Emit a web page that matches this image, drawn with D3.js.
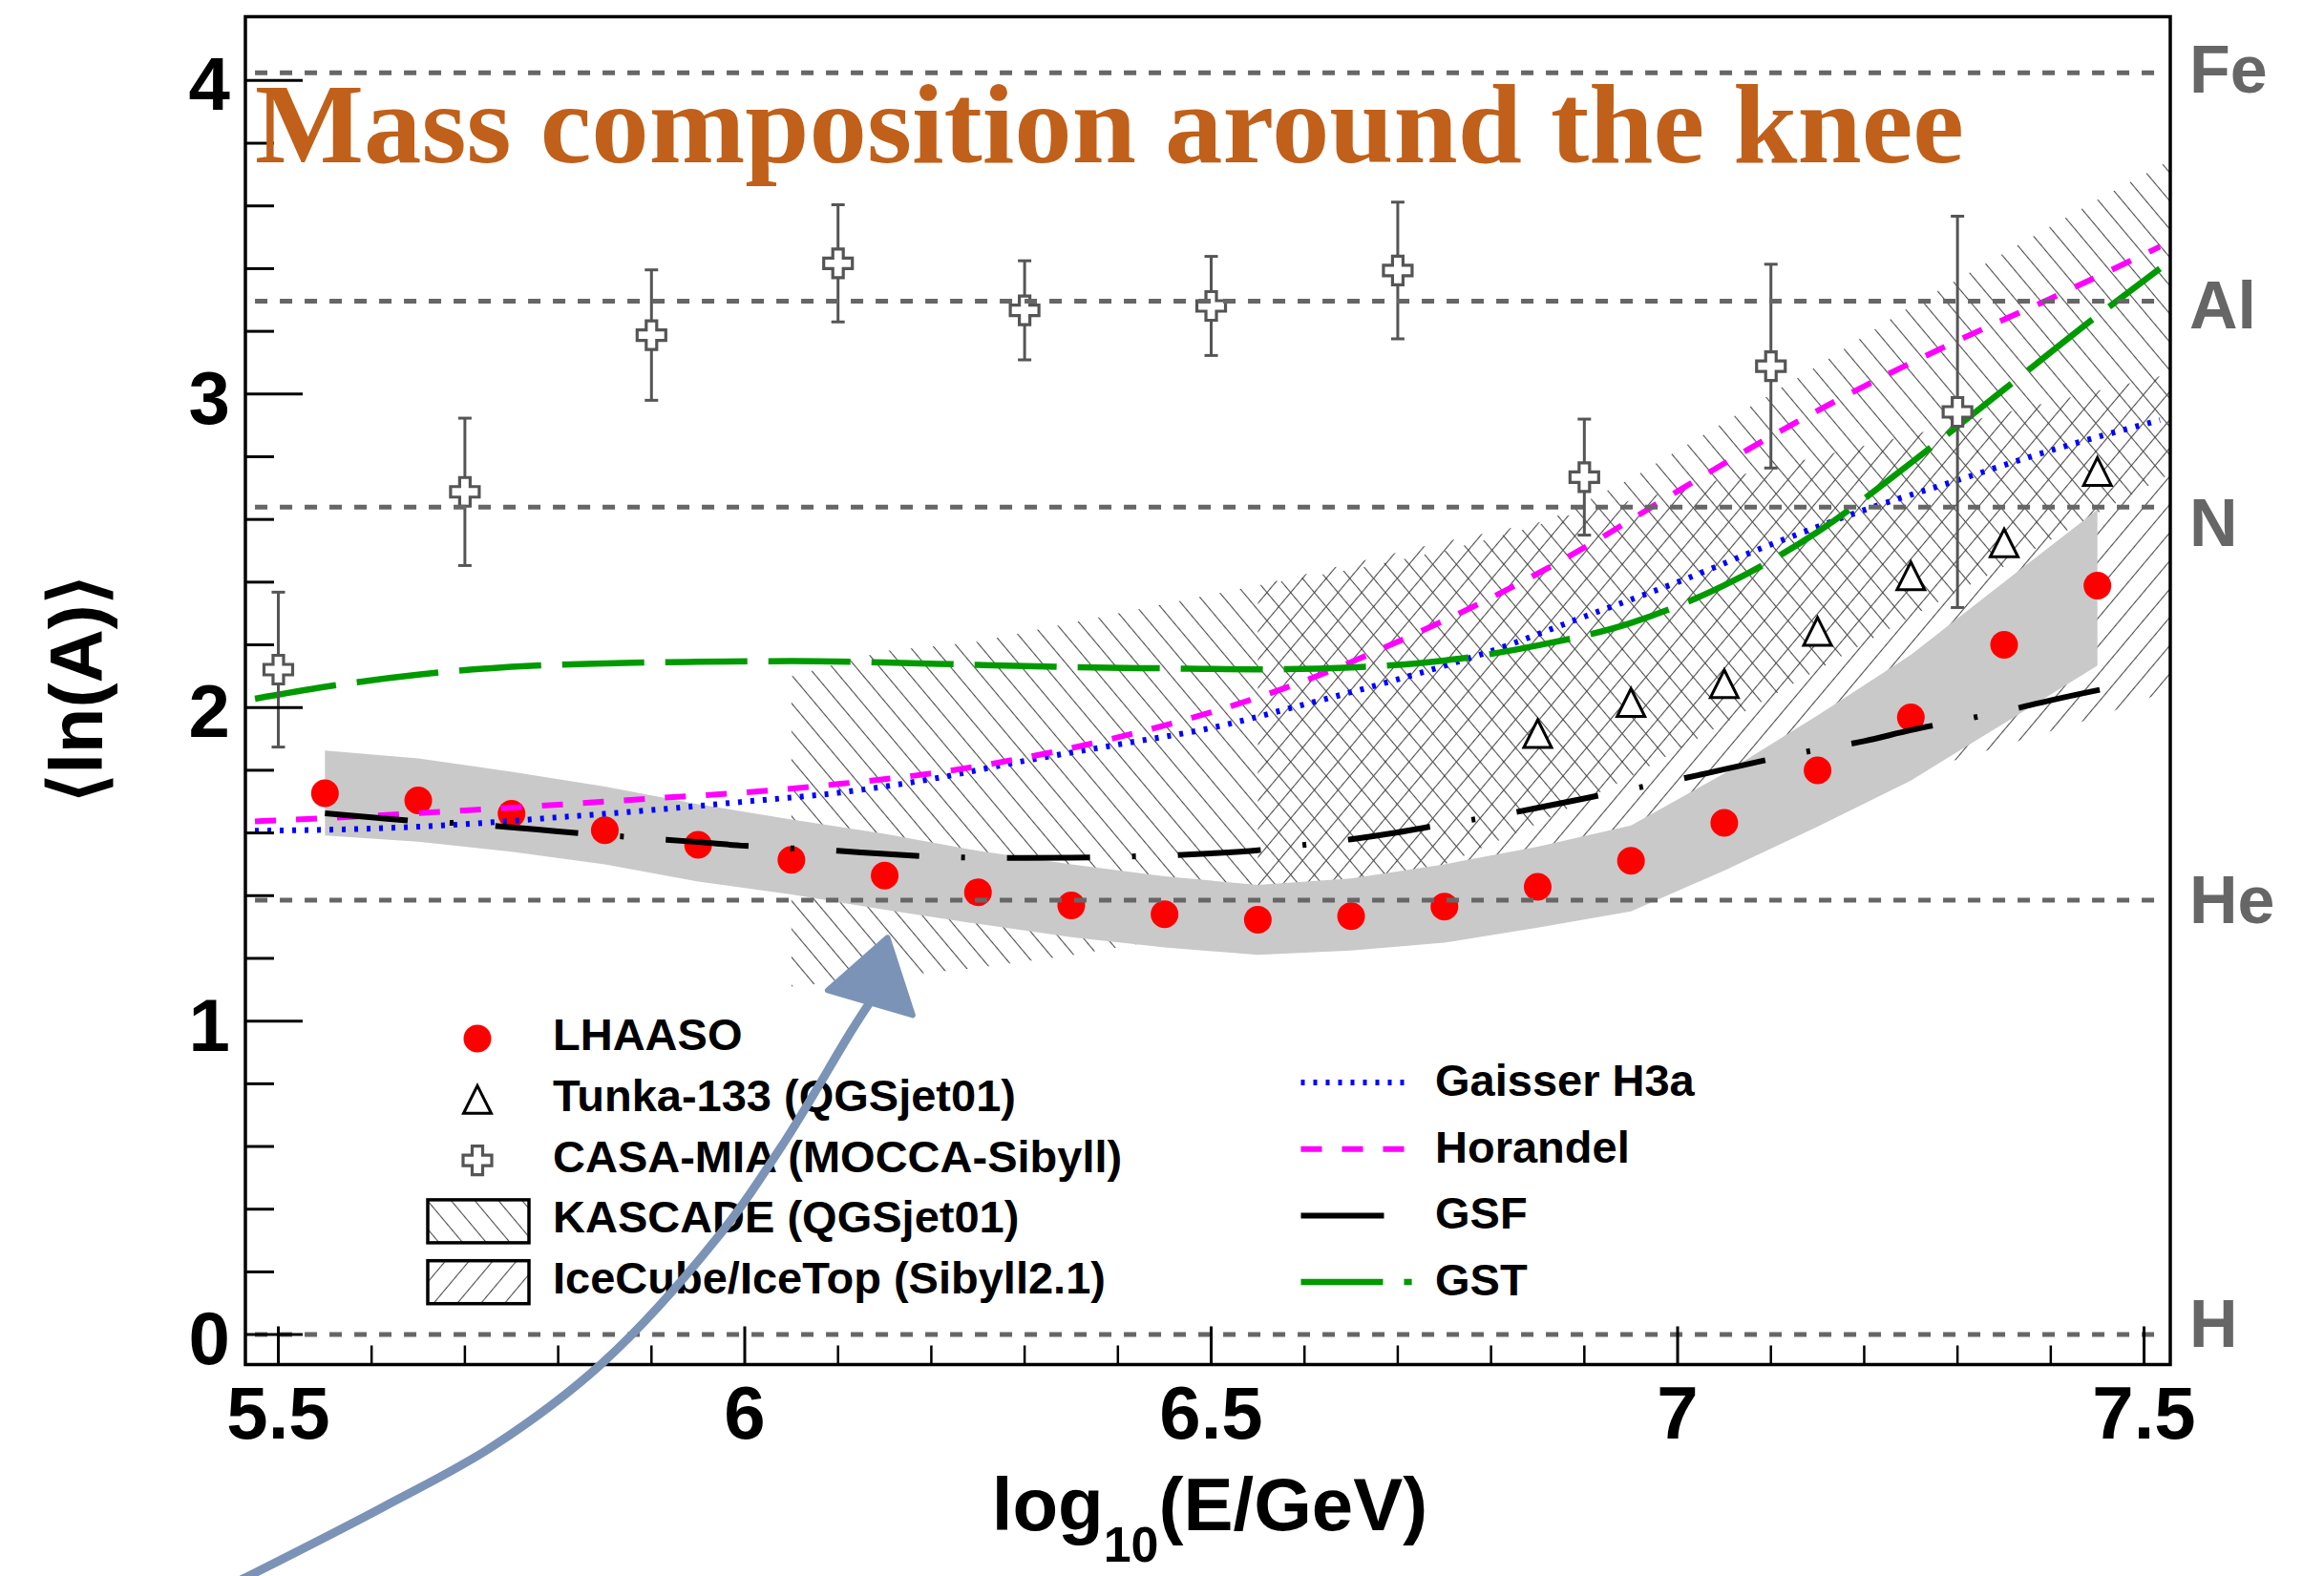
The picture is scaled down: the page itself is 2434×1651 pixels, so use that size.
<!DOCTYPE html>
<html>
<head>
<meta charset="utf-8">
<script src="https://cdn.jsdelivr.net/npm/d3@7"></script>
<style>
  html, body { margin: 0; padding: 0; background: #ffffff; }
  svg { display: block; }
  .sans { font-family: "Liberation Sans", Arial, Helvetica, sans-serif; font-weight: bold; }
</style>
</head>
<body>
<svg id="chart" width="2434" height="1651"></svg>
<script>
// ---------------- data ----------------
// LHAASO mean logarithmic mass with systematic band
const lhaasoX = [5.55, 5.65, 5.75, 5.85, 5.95, 6.05, 6.15, 6.25, 6.35, 6.45, 6.55, 6.65, 6.75, 6.85, 6.95, 7.05, 7.15, 7.25, 7.35, 7.45];
const lhaasoY = [1.727, 1.704, 1.661, 1.609, 1.562, 1.514, 1.464, 1.411, 1.369, 1.341, 1.323, 1.335, 1.365, 1.428, 1.511, 1.632, 1.800, 1.969, 2.200, 2.389];
const lhaasoSysHi = [1.863, 1.838, 1.795, 1.748, 1.692, 1.643, 1.597, 1.543, 1.500, 1.462, 1.434, 1.455, 1.500, 1.556, 1.624, 1.790, 1.975, 2.168, 2.400, 2.631];
const lhaasoSysLo = [1.592, 1.572, 1.540, 1.500, 1.445, 1.404, 1.355, 1.310, 1.268, 1.235, 1.211, 1.225, 1.250, 1.298, 1.350, 1.480, 1.620, 1.767, 1.950, 2.134];

// Tunka-133 (QGSjet01)
const tunkaX = [6.85, 6.95, 7.05, 7.15, 7.25, 7.35, 7.45];
const tunkaY = [1.917, 2.016, 2.076, 2.243, 2.420, 2.525, 2.753];

// CASA-MIA (MOCCA-Sibyll)
const casaX = [5.5, 5.7, 5.9, 6.1, 6.3, 6.5, 6.7, 6.9, 7.1, 7.3];
const casaY = [2.121, 2.688, 3.188, 3.417, 3.267, 3.281, 3.394, 2.735, 3.089, 2.943];
const casaErr = [0.247, 0.235, 0.208, 0.187, 0.158, 0.158, 0.218, 0.185, 0.325, 0.624];

// KASCADE (QGSjet01) allowed range
const kascadeX = [6.05, 6.15, 6.25, 6.35, 6.45, 6.55, 6.65, 6.75, 6.85, 6.95, 7.05, 7.15, 7.25, 7.35, 7.45, 7.55];
const kascadeHi = [2.10, 2.18, 2.21, 2.27, 2.33, 2.39, 2.44, 2.50, 2.58, 2.73, 2.91, 3.09, 3.28, 3.45, 3.62, 3.78];
const kascadeLo = [1.11, 1.14, 1.17, 1.21, 1.26, 1.32, 1.40, 1.50, 1.63, 1.78, 1.95, 2.12, 2.29, 2.45, 2.62, 2.78];

// IceCube/IceTop (Sibyll2.1) allowed range
const iceX = [6.55, 6.65, 6.75, 6.85, 6.95, 7.05, 7.15, 7.25, 7.35, 7.45, 7.55];
const iceHi = [2.39, 2.46, 2.53, 2.59, 2.66, 2.73, 2.80, 2.87, 2.94, 3.01, 3.08];
const iceLo = [1.30, 1.32, 1.36, 1.42, 1.50, 1.58, 1.68, 1.79, 1.88, 1.97, 2.08];

// model predictions
const gaisserX = [5.475, 5.6, 5.7, 5.8, 5.9, 6.0, 6.1, 6.2, 6.3, 6.4, 6.5, 6.6, 6.7, 6.8, 6.9, 7.0, 7.1, 7.2, 7.3, 7.4, 7.517];
const gaisserY = [1.607, 1.614, 1.628, 1.650, 1.673, 1.700, 1.728, 1.772, 1.830, 1.882, 1.935, 2.010, 2.090, 2.180, 2.290, 2.400, 2.520, 2.630, 2.725, 2.820, 2.917];
const horandelX = [5.475, 5.6, 5.7, 5.8, 5.9, 6.0, 6.1, 6.2, 6.3, 6.4, 6.5, 6.6, 6.7, 6.8, 6.9, 7.0, 7.1, 7.2, 7.3, 7.4, 7.517];
const horandelY = [1.637, 1.655, 1.672, 1.690, 1.710, 1.729, 1.756, 1.790, 1.840, 1.905, 1.985, 2.085, 2.210, 2.350, 2.510, 2.690, 2.865, 3.025, 3.170, 3.305, 3.470];
const gsfX = [5.55, 5.6, 5.65, 5.7, 5.75, 5.8, 5.85, 5.9, 5.95, 6.0, 6.05, 6.1, 6.15, 6.2, 6.25, 6.3, 6.35, 6.4, 6.45, 6.5, 6.55, 6.6, 6.65, 6.7, 6.75, 6.8, 6.85, 6.9, 6.95, 7.0, 7.05, 7.1, 7.15, 7.2, 7.25, 7.3, 7.35, 7.4, 7.45, 7.49];
const gsfY = [1.663, 1.650, 1.637, 1.630, 1.618, 1.605, 1.593, 1.582, 1.571, 1.559, 1.551, 1.543, 1.533, 1.525, 1.521, 1.520, 1.521, 1.524, 1.528, 1.535, 1.545, 1.562, 1.580, 1.602, 1.628, 1.652, 1.680, 1.710, 1.740, 1.770, 1.803, 1.836, 1.866, 1.893, 1.928, 1.958, 1.988, 2.023, 2.055, 2.078];
const gstX = [5.475, 5.55, 5.65, 5.75, 5.85, 5.95, 6.05, 6.15, 6.25, 6.35, 6.45, 6.55, 6.65, 6.75, 6.85, 6.95, 7.05, 7.15, 7.25, 7.35, 7.45, 7.517];
const gstY = [2.028, 2.066, 2.105, 2.130, 2.141, 2.146, 2.148, 2.144, 2.136, 2.129, 2.125, 2.122, 2.128, 2.150, 2.198, 2.270, 2.390, 2.560, 2.780, 3.015, 3.250, 3.400];

// reference nuclei: ln(A)
const elemNames = ["Fe", "Al", "N", "He", "H"];
const elemLnA = [4.025, 3.296, 2.639, 1.386, 0.0];
const elemLabelY = [4.037, 3.287, 2.591, 1.389, 0.037];
const elemXRange = [5.475, 7.512];

// axis ticks
const xMajorTicks = [5.5, 6, 6.5, 7, 7.5];
const xTickLabels = ["5.5", "6", "6.5", "7", "7.5"];
const yMajorTicks = [0, 1, 2, 3, 4];
const yTickLabels = ["0", "1", "2", "3", "4"];

// hand-drawn pointer towards the LHAASO minimum (in data units)
const arrowX = [5.455, 5.613, 5.730, 5.848, 5.970, 6.042, 6.114, 6.134];
const arrowY = [-0.79, -0.549, -0.356, -0.089, 0.307, 0.612, 0.967, 1.059];
const arrowHeadX = [6.153, 6.089, 6.180];
const arrowHeadY = [1.266, 1.098, 1.019];

const titleText = "Mass composition around the knee";

// ---------------- layout ----------------
const frame = { left: 257, right: 2273, top: 17.5, bottom: 1429.5 };
const x = d3.scaleLinear().domain([5.4647, 7.5281]).range([frame.left, frame.right]);
const y = d3.scaleLinear().domain([-0.0956, 4.2035]).range([frame.bottom, frame.top]);

const svg = d3.select("#chart");
svg.append("rect").attr("width", 2434).attr("height", 1651).attr("fill", "#ffffff");

const defs = svg.append("defs");
defs.append("clipPath").attr("id", "plotClip")
  .append("rect")
  .attr("x", frame.left).attr("y", frame.top)
  .attr("width", frame.right - frame.left).attr("height", frame.bottom - frame.top);

function hatch(id, angle, gap) {
  const p = defs.append("pattern").attr("id", id)
    .attr("patternUnits", "userSpaceOnUse")
    .attr("width", gap).attr("height", gap)
    .attr("patternTransform", `rotate(${angle})`);
  p.append("line")
    .attr("x1", gap / 2).attr("y1", -2).attr("x2", gap / 2).attr("y2", gap + 2)
    .attr("stroke", "#4a4a4a").attr("stroke-width", 1.1);
}
hatch("hatchBack", -40, 19);   // "\\\" lines
hatch("hatchFwd", 40, 19);     // "///" lines

const plot = svg.append("g").attr("clip-path", "url(#plotClip)");

// hatched experimental ranges
const bandArea = d3.area().x(d => x(d[0])).y0(d => y(d[1])).y1(d => y(d[2])).curve(d3.curveLinear);
plot.append("path")
  .attr("d", bandArea(kascadeX.map((v, i) => [v, kascadeLo[i], kascadeHi[i]])))
  .attr("fill", "url(#hatchBack)");
plot.append("path")
  .attr("d", bandArea(iceX.map((v, i) => [v, iceLo[i], iceHi[i]])))
  .attr("fill", "url(#hatchFwd)");

// LHAASO systematic band
plot.append("path")
  .attr("d", bandArea(lhaasoX.map((v, i) => [v, lhaasoSysLo[i], lhaasoSysHi[i]])))
  .attr("fill", "#c9c9c9");

// LHAASO points
plot.append("g").selectAll("circle")
  .data(lhaasoX.map((v, i) => [v, lhaasoY[i]]))
  .join("circle")
  .attr("cx", d => x(d[0])).attr("cy", d => y(d[1]))
  .attr("r", 14.5).attr("fill", "#ff0000");

// model curves
const curve = d3.line().x(d => x(d[0])).y(d => y(d[1])).curve(d3.curveMonotoneX);
const models = [
  { xs: gaisserX, ys: gaisserY, color: "#0000ff", width: 6, dash: "4 9" },
  { xs: horandelX, ys: horandelY, color: "#ff00ff", width: 6, dash: "22 21" },
  { xs: gstX, ys: gstY, color: "#009a00", width: 6.5, dash: "86 22" },
  { xs: gsfX, ys: gsfY, color: "#000000", width: 6, dash: "87 44 4 44" }
];
models.forEach(m => {
  plot.append("path")
    .attr("d", curve(m.xs.map((v, i) => [v, m.ys[i]])))
    .attr("fill", "none")
    .attr("stroke", m.color).attr("stroke-width", m.width)
    .attr("stroke-dasharray", m.dash);
});

// marker shapes
function trianglePath(s) {
  const h = s / 2;
  return `M0,${-h}L${h},${h}L${-h},${h}Z`;
}
function crossPath(s, a) {
  const h = s / 2;
  return `M${-a},${-h}H${a}V${-a}H${h}V${a}H${a}V${h}H${-a}V${a}H${-h}V${-a}H${-a}Z`;
}

// Tunka-133 points
plot.append("g").selectAll("path")
  .data(tunkaX.map((v, i) => [v, tunkaY[i]]))
  .join("path")
  .attr("transform", d => `translate(${x(d[0])},${y(d[1])})`)
  .attr("d", trianglePath(29))
  .attr("fill", "#ffffff").attr("stroke", "#000000").attr("stroke-width", 3)
  .attr("stroke-linejoin", "miter");

// CASA-MIA points with error bars
const casa = plot.append("g");
const casaData = casaX.map((v, i) => [v, casaY[i], casaErr[i]]);
casa.selectAll("line.bar").data(casaData).join("line").attr("class", "bar")
  .attr("x1", d => x(d[0])).attr("x2", d => x(d[0]))
  .attr("y1", d => y(d[1] - d[2])).attr("y2", d => y(d[1] + d[2]))
  .attr("stroke", "#555555").attr("stroke-width", 3);
casa.selectAll("line.capT").data(casaData).join("line").attr("class", "capT")
  .attr("x1", d => x(d[0]) - 7).attr("x2", d => x(d[0]) + 7)
  .attr("y1", d => y(d[1] + d[2])).attr("y2", d => y(d[1] + d[2]))
  .attr("stroke", "#555555").attr("stroke-width", 3);
casa.selectAll("line.capB").data(casaData).join("line").attr("class", "capB")
  .attr("x1", d => x(d[0]) - 7).attr("x2", d => x(d[0]) + 7)
  .attr("y1", d => y(d[1] - d[2])).attr("y2", d => y(d[1] - d[2]))
  .attr("stroke", "#555555").attr("stroke-width", 3);
casa.selectAll("path").data(casaData).join("path")
  .attr("transform", d => `translate(${x(d[0])},${y(d[1])})`)
  .attr("d", crossPath(30, 5.5))
  .attr("fill", "#ffffff").attr("stroke", "#555555").attr("stroke-width", 3.2);

// reference ln(A) lines
plot.append("g").selectAll("line")
  .data(elemLnA)
  .join("line")
  .attr("x1", x(elemXRange[0])).attr("x2", x(elemXRange[1]))
  .attr("y1", d => y(d)).attr("y2", d => y(d))
  .attr("stroke", "#666666").attr("stroke-width", 5)
  .attr("stroke-dasharray", "13 13");

// element labels outside the frame
svg.append("g").selectAll("text")
  .data(elemNames.map((n, i) => [n, elemLabelY[i]]))
  .join("text")
  .attr("class", "sans")
  .attr("x", 2293).attr("y", d => y(d[1]))
  .attr("dy", "0.36em")
  .attr("font-size", 70)
  .attr("fill", "#666666")
  .text(d => d[0]);

// ---------------- axes ----------------
const axes = svg.append("g");
const xMinor = d3.range(5.5, 7.5001, 0.1).filter(v => !xMajorTicks.some(m => Math.abs(m - v) < 1e-6));
const yMinor = d3.range(0, 4.0001, 0.2).filter(v => !yMajorTicks.some(m => Math.abs(m - v) < 1e-6));

axes.selectAll("line.xmaj").data(xMajorTicks).join("line").attr("class", "xmaj")
  .attr("x1", d => x(d)).attr("x2", d => x(d))
  .attr("y1", frame.bottom).attr("y2", frame.bottom - 40)
  .attr("stroke", "#000").attr("stroke-width", 3);
axes.selectAll("line.xmin").data(xMinor).join("line").attr("class", "xmin")
  .attr("x1", d => x(d)).attr("x2", d => x(d))
  .attr("y1", frame.bottom).attr("y2", frame.bottom - 20)
  .attr("stroke", "#000").attr("stroke-width", 2.5);
axes.selectAll("line.ymaj").data(yMajorTicks).join("line").attr("class", "ymaj")
  .attr("x1", frame.left).attr("x2", frame.left + 60)
  .attr("y1", d => y(d)).attr("y2", d => y(d))
  .attr("stroke", "#000").attr("stroke-width", 3);
axes.selectAll("line.ymin").data(yMinor).join("line").attr("class", "ymin")
  .attr("x1", frame.left).attr("x2", frame.left + 30)
  .attr("y1", d => y(d)).attr("y2", d => y(d))
  .attr("stroke", "#000").attr("stroke-width", 3);

axes.selectAll("text.xl").data(xMajorTicks).join("text").attr("class", "xl sans")
  .attr("x", d => x(d)).attr("y", 1507)
  .attr("text-anchor", "middle").attr("font-size", 78)
  .text((d, i) => xTickLabels[i]);
axes.selectAll("text.yl").data(yMajorTicks).join("text").attr("class", "yl sans")
  .attr("x", 241).attr("y", d => y(d) + 31)
  .attr("text-anchor", "end").attr("font-size", 78)
  .text((d, i) => yTickLabels[i]);

// frame
svg.append("rect")
  .attr("x", frame.left).attr("y", frame.top)
  .attr("width", frame.right - frame.left).attr("height", frame.bottom - frame.top)
  .attr("fill", "none").attr("stroke", "#000").attr("stroke-width", 3.5);

// axis titles
const xt = svg.append("text").attr("class", "sans")
  .attr("x", (frame.left + frame.right) / 2 + 2).attr("y", 1603)
  .attr("text-anchor", "middle").attr("font-size", 78);
xt.append("tspan").text("log");
xt.append("tspan").attr("font-size", 52).attr("dy", 33).text("10");
xt.append("tspan").attr("dy", -33).text("(E/GeV)");

svg.append("text").attr("class", "sans")
  .attr("transform", "translate(107,722) rotate(-90)")
  .attr("text-anchor", "middle").attr("font-size", 78)
  .text("\u27E8ln(A)\u27E9");

// ---------------- legends ----------------
const legL = svg.append("g");
const leftRows = ["LHAASO", "Tunka-133 (QGSjet01)", "CASA-MIA (MOCCA-Sibyll)", "KASCADE (QGSjet01)", "IceCube/IceTop (Sibyll2.1)"];
const leftBase = i => 1100 + i * 63.8;
legL.selectAll("text").data(leftRows).join("text").attr("class", "sans")
  .attr("x", 579).attr("y", (d, i) => leftBase(i))
  .attr("font-size", 47).text(d => d);
legL.append("circle").attr("cx", 500).attr("cy", leftBase(0) - 12).attr("r", 14.5).attr("fill", "#ff0000");
legL.append("path").attr("transform", `translate(500,${leftBase(1) - 12})`)
  .attr("d", trianglePath(29)).attr("fill", "#fff").attr("stroke", "#000").attr("stroke-width", 3);
legL.append("path").attr("transform", `translate(500,${leftBase(2) - 12})`)
  .attr("d", crossPath(30, 5.5)).attr("fill", "#fff").attr("stroke", "#555").attr("stroke-width", 3.2);
[["hatchBack", 3], ["hatchFwd", 4]].forEach(([pat, i]) => {
  legL.append("rect")
    .attr("x", 448).attr("y", leftBase(i) - 12 - 22.5)
    .attr("width", 106).attr("height", 45)
    .attr("fill", `url(#${pat})`).attr("stroke", "#000").attr("stroke-width", 3.5);
});

const legR = svg.append("g");
const rightRows = ["Gaisser H3a", "Horandel", "GSF", "GST"];
const rightModels = [models[0], models[1], models[3], models[2]];
const rightBase = i => 1148 + i * 69.7;
legR.selectAll("text").data(rightRows).join("text").attr("class", "sans")
  .attr("x", 1503).attr("y", (d, i) => rightBase(i))
  .attr("font-size", 47).text(d => d);
rightModels.forEach((m, i) => {
  legR.append("line")
    .attr("x1", 1362.5).attr("x2", 1478.6)
    .attr("y1", rightBase(i) - 14).attr("y2", rightBase(i) - 14)
    .attr("stroke", m.color).attr("stroke-width", m.width)
    .attr("stroke-dasharray", m.dash);
});

// ---------------- title ----------------
svg.append("text")
  .attr("x", 267).attr("y", 170)
  .attr("font-family", "'Liberation Serif', 'Times New Roman', serif")
  .attr("font-weight", "bold").attr("font-size", 118)
  .attr("fill", "#c0601a")
  .attr("textLength", 1790).attr("lengthAdjust", "spacingAndGlyphs")
  .text(titleText);

// ---------------- pointer ----------------
const arrowLine = d3.line().x(d => x(d[0])).y(d => y(d[1])).curve(d3.curveCatmullRom.alpha(0.5));
svg.append("path")
  .attr("d", arrowLine(arrowX.map((v, i) => [v, arrowY[i]])))
  .attr("fill", "none").attr("stroke", "#7b93b6").attr("stroke-width", 9)
  .attr("stroke-linecap", "round").attr("stroke-linejoin", "round");
svg.append("path")
  .attr("d", "M" + arrowHeadX.map((v, i) => `${x(v)},${y(arrowHeadY[i])}`).join("L") + "Z")
  .attr("fill", "#7b93b6").attr("stroke", "#7b93b6").attr("stroke-width", 6)
  .attr("stroke-linejoin", "round");
</script>
</body>
</html>
